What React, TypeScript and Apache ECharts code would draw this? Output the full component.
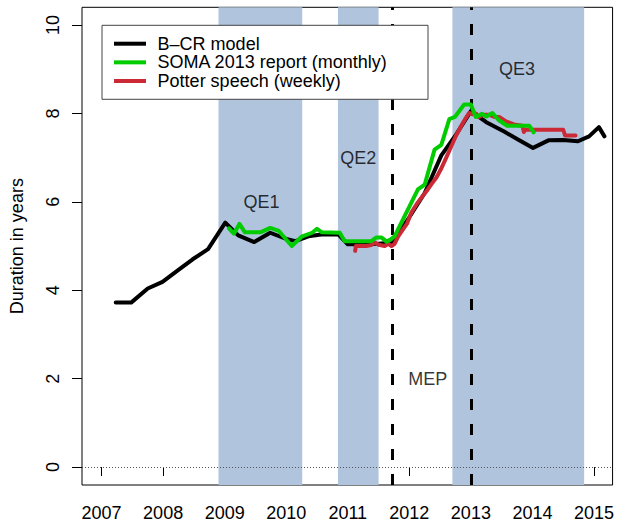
import React, { useEffect, useRef } from "react";
import * as echarts from "echarts";

const FONT = "'Liberation Sans', Arial, Helvetica, sans-serif";

const xTickYears = [2007, 2008, 2009, 2010, 2011, 2012, 2013, 2014, 2015];
const yTickValues = [0, 2, 4, 6, 8, 10];

// B-CR model
const bcrX = [2007.23, 2007.48, 2007.75, 2007.99, 2008.26, 2008.48, 2008.73, 2009.01, 2009.22, 2009.48, 2009.74, 2010.0, 2010.15, 2010.36, 2010.57, 2010.85, 2011.0, 2011.25, 2011.5, 2011.72, 2012.0, 2012.25, 2012.52, 2012.75, 2013.0, 2013.25, 2013.54, 2013.75, 2014.01, 2014.26, 2014.5, 2014.74, 2014.92, 2015.08, 2015.17];
const bcrY = [3.72, 3.72, 4.04, 4.19, 4.47, 4.7, 4.93, 5.53, 5.24, 5.09, 5.3, 5.16, 5.11, 5.22, 5.26, 5.26, 5.04, 5.04, 5.05, 5.08, 5.65, 6.2, 7.05, 7.5, 8.05, 7.8, 7.59, 7.42, 7.22, 7.39, 7.4, 7.37, 7.48, 7.69, 7.48];

// SOMA 2013 report (monthly)
const somaX = [2009.07, 2009.15, 2009.24, 2009.33, 2009.5, 2009.58, 2009.74, 2009.88, 2010.09, 2010.25, 2010.42, 2010.5, 2010.58, 2010.87, 2010.95, 2011.1, 2011.25, 2011.38, 2011.46, 2011.55, 2011.63, 2011.7, 2011.76, 2011.95, 2012.14, 2012.25, 2012.41, 2012.52, 2012.65, 2012.74, 2012.89, 2013.0, 2013.08, 2013.18, 2013.25, 2013.35, 2013.45, 2013.59, 2013.8, 2013.95, 2014.02];
const somaY = [5.4, 5.28, 5.5, 5.31, 5.31, 5.31, 5.41, 5.34, 5.0, 5.21, 5.3, 5.39, 5.31, 5.3, 5.11, 5.11, 5.11, 5.11, 5.19, 5.19, 5.1, 5.15, 5.22, 5.75, 6.28, 6.39, 7.18, 7.29, 7.87, 7.92, 8.2, 8.2, 7.92, 7.99, 7.93, 8.01, 7.85, 7.72, 7.72, 7.72, 7.57];

// Potter speech (weekly)
const potterX = [2011.12, 2011.13, 2011.14, 2011.22, 2011.3, 2011.38, 2011.44, 2011.5, 2011.6, 2011.66, 2011.71, 2011.76, 2011.82, 2011.9, 2011.96, 2012.03, 2012.12, 2012.2, 2012.3, 2012.36, 2012.44, 2012.51, 2012.6, 2012.68, 2012.76, 2012.84, 2012.92, 2012.97, 2013.03, 2013.08, 2013.13, 2013.2, 2013.29, 2013.38, 2013.46, 2013.57, 2013.7, 2013.84, 2013.86, 2013.89, 2014.5, 2014.53, 2014.7];
const potterY = [4.89, 5.0, 5.0, 5.0, 5.0, 5.02, 5.08, 5.03, 5.0, 5.05, 5.0, 5.05, 5.22, 5.38, 5.5, 5.75, 5.95, 6.1, 6.28, 6.4, 6.55, 6.73, 7.0, 7.25, 7.5, 7.71, 7.9, 8.01, 7.98, 8.0, 7.92, 7.97, 7.97, 7.92, 7.92, 7.82, 7.75, 7.72, 7.58, 7.63, 7.63, 7.5, 7.5];

// QE programme periods
const qeStart = [2008.9, 2010.84, 2012.7];
const qeEnd = [2010.26, 2011.5, 2014.84];

// Vertical event lines (MEP start, 2013)
const eventYears = [2011.72, 2013.0];

// Annotation labels
const annLabels = ["QE1", "QE2", "QE3", "MEP"];
const annX = [2009.6, 2011.17, 2013.75, 2012.3];
const annY = [6.0, 7.0, 9.0, 2.0];

const legendNames = ["B\u2013CR model", "SOMA 2013 report (monthly)", "Potter speech (weekly)"];
const legendColors = ["#000000", "#00CC00", "#CC2936"];

const zip = (xs: number[], ys: number[]) => xs.map((x, i) => [x, ys[i]]);

export default function App() {
  const ref = useRef<HTMLDivElement>(null);
  useEffect(() => {
    if (!ref.current) return;
    const chart = echarts.init(ref.current, null, { renderer: "svg" });

    const legendGraphics: any[] = [
      {
        type: "rect",
        z: 100,
        shape: { x: 102, y: 25.3, width: 326, height: 74 },
        style: { fill: "#ffffff", stroke: "#444444", lineWidth: 1 },
      },
    ];
    legendNames.forEach((name, i) => {
      const y = 43.7 + i * 18.65;
      legendGraphics.push({
        type: "line",
        z: 101,
        shape: { x1: 114, y1: y, x2: 146, y2: y },
        style: { stroke: legendColors[i], lineWidth: 4, lineCap: "butt" },
      });
      legendGraphics.push({
        type: "text",
        z: 101,
        x: 157.6,
        y: y,
        style: {
          text: name,
          fill: "#000",
          fontSize: 18,
          fontFamily: FONT,
          verticalAlign: "middle",
          align: "left",
        },
      });
    });

    const lineSeries = (name: string, xs: number[], ys: number[], color: string, z: number) => ({
      name,
      type: "line",
      data: zip(xs, ys),
      symbol: "none",
      z,
      lineStyle: { color, width: 4, cap: "round", join: "round" },
      silent: true,
    });

    chart.setOption({
      animation: false,
      backgroundColor: "#ffffff",
      grid: {
        left: 82,
        right: 1,
        top: 7.3,
        bottom: 35.7,
        show: true,
        borderColor: "#000",
        borderWidth: 1,
        backgroundColor: "transparent",
      },
      xAxis: {
        type: "value",
        min: 2006.682,
        max: 2015.302,
        axisLine: { show: false },
        splitLine: { show: false },
        axisTick: {
          show: true,
          customValues: xTickYears,
          length: 9,
          lineStyle: { color: "#000", width: 1 },
        },
        axisLabel: {
          customValues: xTickYears,
          fontSize: 18,
          fontFamily: FONT,
          color: "#000",
          margin: 19,
          formatter: (v: number) => String(v),
        },
      },
      yAxis: {
        type: "value",
        min: -0.406,
        max: 10.4,
        name: "Duration in years",
        nameLocation: "middle",
        nameRotate: 90,
        nameGap: 56,
        nameTextStyle: { fontSize: 18, fontFamily: FONT, color: "#000" },
        axisLine: { show: false },
        splitLine: { show: false },
        axisTick: {
          show: true,
          customValues: yTickValues,
          length: 10,
          lineStyle: { color: "#000", width: 1 },
        },
        axisLabel: {
          customValues: yTickValues,
          rotate: 90,
          fontSize: 18,
          fontFamily: FONT,
          color: "#000",
          margin: 20,
          formatter: (v: number) => String(v),
        },
      },
      graphic: legendGraphics,
      series: [
        {
          type: "line",
          data: [],
          z: 1,
          silent: true,
          markArea: {
            silent: true,
            itemStyle: { color: "#B0C4DE" },
            data: qeStart.map((s, i) => [{ xAxis: s }, { xAxis: qeEnd[i] }]),
          },
        },
        {
          type: "line",
          data: [],
          z: 2,
          silent: true,
          markLine: {
            silent: true,
            symbol: ["none", "none"],
            label: { show: false },
            lineStyle: { color: "#555", width: 1, type: [1, 2] },
            data: [{ yAxis: 0 }],
          },
        },
        {
          type: "line",
          data: [],
          z: 3,
          silent: true,
          markLine: {
            silent: true,
            symbol: ["none", "none"],
            label: { show: false },
            lineStyle: { color: "#000", width: 3, type: [11, 14] },
            data: eventYears.map((x) => ({ xAxis: x })),
          },
        },
        lineSeries(legendNames[0], bcrX, bcrY, legendColors[0], 4),
        lineSeries(legendNames[2], potterX, potterY, legendColors[2], 5),
        lineSeries(legendNames[1], somaX, somaY, legendColors[1], 6),
        {
          type: "scatter",
          z: 7,
          silent: true,
          symbolSize: 0,
          data: annLabels.map((t, i) => ({ name: t, value: [annX[i], annY[i]] })),
          label: {
            show: true,
            position: "inside",
            formatter: "{b}",
            fontSize: 18,
            fontFamily: FONT,
            color: "#000",
            textBorderWidth: 0,
            textBorderColor: "transparent",
          },
        },
      ],
    });
    return () => chart.dispose();
  }, []);
  return (
    <div
      ref={ref}
      style={{ position: "fixed", left: 0, top: 0, width: 617, height: 522 }}
    />
  );
}
